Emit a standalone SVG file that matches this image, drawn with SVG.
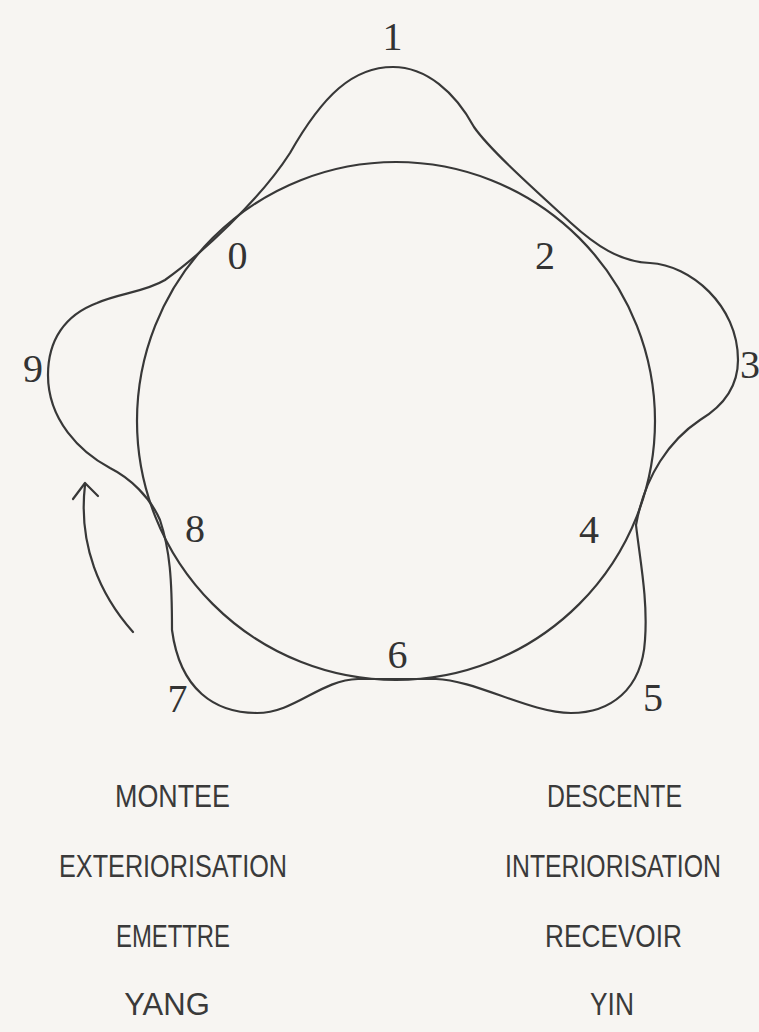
<svg xmlns="http://www.w3.org/2000/svg" width="759" height="1032" viewBox="0 0 759 1032">
<style>
.ln{fill:none;stroke:#383838;stroke-width:2.2;stroke-linecap:round;stroke-linejoin:round}
.num{font-family:"Liberation Serif","Times New Roman",serif;font-size:40px;fill:#333;text-anchor:middle}
.lbl{font-family:"Liberation Sans",Arial,sans-serif;font-size:31px;fill:#3a3a3a;text-anchor:middle}
</style>
<rect x="0" y="0" width="759" height="1032" fill="#f7f5f2"/>
<g id="connectors">
<circle id="circle" class="ln" cx="396" cy="421" r="259"/>
<path id="wave" class="ln" d="M393,67 C426,67 455,92 474,127 C490,150 535,190 571,223 C595,245 620,262 650,263 C690,265 738,305 738,360 C738,385 725,405 700,420 C670,440 645,475 636,525 C640,560 648,600 645,640 C642,690 610,713 571,713 C530,713 475,680 436,679 L358,679 C320,680 295,713 257,713 C215,713 180,690 172,630 C172,580 170,550 160,520 C150,497 130,478 110,468 C80,452 48,420 48,375 C48,340 65,315 97,303 C120,293 145,292 165,280 C200,255 260,200 290,153 C323,95 353,67 393,67 Z"/>
<path id="arrow" class="ln" d="M133,632 C100,595 78,545 85,485"/>
<polyline class="ln" points="73,499 85,483 98,496"/>
</g>
<g id="n1"><text class="num" x="392.5" y="50">1</text></g>
<g id="n0"><text class="num" x="237.5" y="269">0</text></g>
<g id="n2"><text class="num" x="545" y="269">2</text></g>
<g id="n3"><text class="num" x="750" y="378">3</text></g>
<g id="n4"><text class="num" x="589" y="543">4</text></g>
<g id="n5"><text class="num" x="653" y="711">5</text></g>
<g id="n6"><text class="num" x="397.5" y="668">6</text></g>
<g id="n7"><text class="num" x="177.5" y="712">7</text></g>
<g id="n8"><text class="num" x="195" y="542">8</text></g>
<g id="n9"><text class="num" x="33" y="382">9</text></g>
<g id="labels">
<text class="lbl" transform="translate(172.5,807) scale(0.867,1)">MONTEE</text>
<text class="lbl" transform="translate(614.5,807) scale(0.8,1)">DESCENTE</text>
<text class="lbl" transform="translate(173,877) scale(0.814,1)">EXTERIORISATION</text>
<text class="lbl" transform="translate(613,877) scale(0.8,1)">INTERIORISATION</text>
<text class="lbl" transform="translate(173,947) scale(0.77,1)">EMETTRE</text>
<text class="lbl" transform="translate(613.5,947) scale(0.846,1)">RECEVOIR</text>
<text class="lbl" transform="translate(167,1015) scale(1.0,1)">YANG</text>
<text class="lbl" transform="translate(612,1015) scale(0.85,1)">YIN</text>
</g>
</svg>
